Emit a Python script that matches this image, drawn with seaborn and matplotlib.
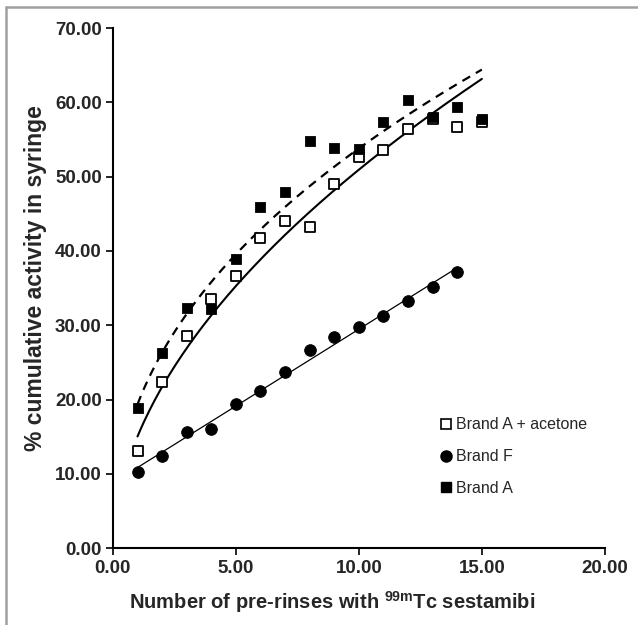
import matplotlib
matplotlib.use("Agg")
from matplotlib import pyplot as plt
from matplotlib.lines import Line2D
import seaborn as sns
import numpy as np

# number of pre-rinses
rinses_15 = np.arange(1, 16)
rinses_14 = np.arange(1, 15)

# % cumulative activity in syringe
acetone = [13.1, 22.4, 28.5, 33.6, 36.6, 41.7, 44.1, 43.2, 49.0, 52.6,
           53.6, 56.4, 57.8, 56.7, 57.4]
brand_f = [10.3, 12.4, 15.6, 16.0, 19.4, 21.2, 23.7, 26.7, 28.4, 29.7,
           31.2, 33.2, 35.2, 37.2]
brand_a = [18.9, 26.2, 32.3, 32.2, 38.9, 45.9, 48.0, 54.8, 53.8, 53.7,
           57.3, 60.3, 58.1, 59.4, 57.8]

labels = ["Brand A + acetone", "Brand F", "Brand A"]


def power_fit(x, y):
    # Excel style power trendline y = a * x^b
    b, ln_a = np.polyfit(np.log(x), np.log(y), 1)
    xs = np.linspace(x[0], x[-1], 200)
    return xs, np.exp(ln_a) * xs ** b


def linear_fit(x, y):
    m, c = np.polyfit(x, y, 1)
    xs = np.linspace(x[0], x[-1], 50)
    return xs, m * xs + c


sns.set_style("ticks")
plt.rcParams['font.family'] = ['Liberation Sans', 'DejaVu Sans']

fig = plt.figure(figsize=(6.38, 6.25), dpi=100)
ax = fig.add_axes([0.177, 0.123, 0.771, 0.832])

# trend lines
xs, ys = power_fit(rinses_15, np.array(brand_a))
sns.lineplot(x=xs, y=ys, ax=ax, color="black", lw=1.6, linestyle=(0, (4, 3)))
xs, ys = power_fit(rinses_15, np.array(acetone))
sns.lineplot(x=xs, y=ys, ax=ax, color="black", lw=1.5)
xs, ys = linear_fit(rinses_14, np.array(brand_f))
sns.lineplot(x=xs, y=ys, ax=ax, color="black", lw=0.9)

# data points
sns.scatterplot(x=rinses_15, y=acetone, ax=ax, marker="s", s=55,
                facecolor="white", edgecolor="black", linewidth=1.3, zorder=3)
sns.scatterplot(x=rinses_14, y=brand_f, ax=ax, marker="o", s=70,
                color="black", edgecolor="black", zorder=3)
sns.scatterplot(x=rinses_15, y=brand_a, ax=ax, marker="s", s=55,
                color="black", edgecolor="black", zorder=4)

ax.set_xlim(0, 20)
ax.set_ylim(0, 70)
ax.set_xticks(np.arange(0, 21, 5))
ax.set_yticks(np.arange(0, 71, 10))
ax.set_xticklabels([f"{v:.2f}" for v in np.arange(0, 21, 5)])
ax.set_yticklabels([f"{v:.2f}" for v in np.arange(0, 71, 10)])
ax.tick_params(axis="both", labelsize=13.5, width=1.2, length=5, color="black")
ax.tick_params(axis="y", pad=3)
for lab in ax.get_xticklabels() + ax.get_yticklabels():
    lab.set_fontweight("bold")
sns.despine(ax=ax)
for side in ["left", "bottom"]:
    ax.spines[side].set_linewidth(1.5)
    ax.spines[side].set_color("black")

ax.set_xlabel(r"Number of pre-rinses with $\mathregular{^{99m}}$Tc sestamibi",
              fontsize=14.5, fontweight="bold", labelpad=9)
ax.set_ylabel("% cumulative activity in syringe", fontsize=16.5,
              fontweight="bold", labelpad=6)
ax.xaxis.label.set_x(0.445)
ax.yaxis.label.set_y(0.52)

handles = [
    Line2D([], [], marker="s", ls="", mfc="white", mec="black", mew=1.2, ms=7),
    Line2D([], [], marker="o", ls="", color="black", ms=8),
    Line2D([], [], marker="s", ls="", color="black", ms=7),
]
ax.legend(handles, labels, loc="lower left", bbox_to_anchor=(0.652, 0.085),
          frameon=False, fontsize=11.5, handlelength=0.6, handletextpad=0.3,
          labelspacing=1.05, borderpad=0)

# gray frame around the chart area
fig.add_artist(Line2D([6 / 638, 6 / 638], [0, 1 - 7 / 625],
                      transform=fig.transFigure, color="#a0a0a0", lw=1.8))
fig.add_artist(Line2D([6 / 638, 1], [1 - 7 / 625, 1 - 7 / 625],
                      transform=fig.transFigure, color="#a0a0a0", lw=1.8))

fig.savefig("out.png", dpi=100)
